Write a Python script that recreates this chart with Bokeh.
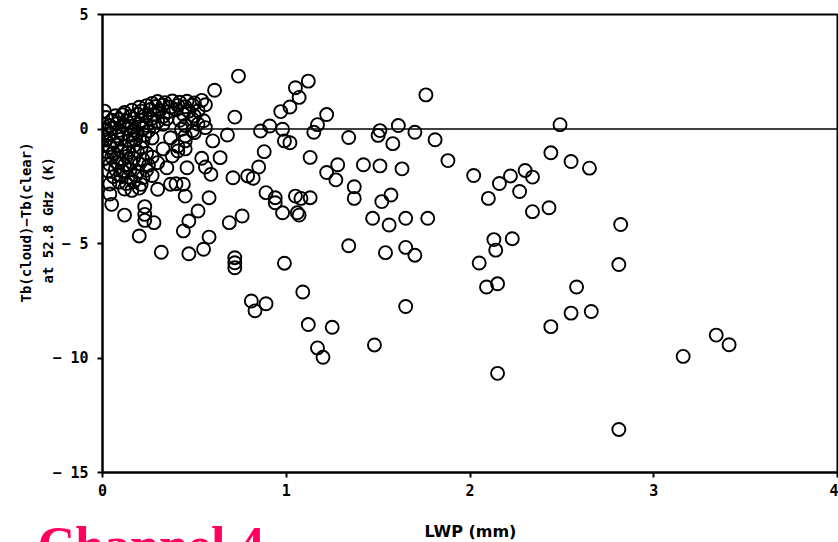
from bokeh.embed import file_html
from bokeh.layouts import column
from bokeh.models import ColumnDataSource, FixedTicker, Span, Title
from bokeh.core.properties import value
from bokeh.plotting import figure
from bokeh.resources import INLINE

# Liquid water path (mm) and brightness-temperature difference (K), larger-LWP cases
lwp_high = [
    1.12, 1.07, 1.05, 1.76, 1.22, 1.17, 1.15, 1.34, 1.51, 1.50, 1.61, 1.58, 1.70, 1.81,
    2.49, 1.13, 1.28, 1.22, 1.27, 1.42, 1.51, 1.63, 1.88, 2.02, 2.44, 2.55, 2.65, 2.22,
    2.30, 2.34, 2.16, 2.27, 2.10, 2.34, 2.43, 2.82, 1.13, 1.08, 1.37, 1.37, 1.57, 1.52,
    1.07, 1.47, 1.56, 1.65, 1.77, 1.34, 1.54, 1.65, 1.70, 2.13, 2.23, 2.14, 2.05, 2.81,
    2.09, 2.15, 2.58, 1.09, 1.65, 2.55, 2.66, 2.44, 1.12, 1.25, 1.17, 1.20, 1.48, 2.15,
    3.34, 3.41, 3.16, 2.81,
    0.74, 0.61, 0.72, 0.97, 1.02, 0.91, 0.86, 0.98, 0.99, 1.02, 0.88, 0.68, 0.60, 0.54,
    0.64, 0.56, 0.59, 0.71, 0.79, 0.82, 0.85, 0.89, 0.94, 0.98, 1.06, 1.05, 0.94, 0.76,
    0.69, 0.58, 0.52, 0.47, 0.44, 0.58, 0.55, 0.47, 0.32, 0.72, 0.72, 0.72, 0.99, 0.81,
    0.89, 0.83, 0.23, 0.23, 0.23, 0.28, 0.20, 0.12, 0.05, 0.44, 0.40, 0.45, 0.30, 0.35,
    0.46, 0.37,
]
dtb_high = [
    2.09, 1.38, 1.80, 1.49, 0.63, 0.19, -0.14, -0.37, -0.07, -0.28, 0.15, -0.64, -0.14, -0.47,
    0.19, -1.24, -1.56, -1.90, -2.22, -1.56, -1.61, -1.74, -1.38, -2.03, -1.04, -1.42, -1.71, -2.05,
    -1.81, -2.10, -2.38, -2.73, -3.03, -3.61, -3.44, -4.17, -3.00, -3.03, -2.52, -3.03, -2.88, -3.17,
    -3.76, -3.90, -4.19, -3.90, -3.90, -5.10, -5.40, -5.17, -5.51, -4.83, -4.79, -5.29, -5.85, -5.92,
    -6.90, -6.76, -6.90, -7.12, -7.75, -8.04, -7.97, -8.63, -8.54, -8.66, -9.56, -9.97, -9.43, -10.67,
    -9.00, -9.42, -9.93, -13.12,
    2.31, 1.69, 0.52, 0.76, 0.96, 0.13, -0.09, -0.01, -0.52, -0.60, -0.99, -0.26, -0.52, -1.28,
    -1.25, -1.66, -1.98, -2.13, -2.05, -2.15, -1.66, -2.78, -3.22, -3.66, -3.66, -2.93, -3.00, -3.80,
    -4.09, -3.00, -3.58, -4.02, -4.45, -4.72, -5.25, -5.45, -5.38, -5.62, -5.84, -6.06, -5.86, -7.51,
    -7.63, -7.94, -3.39, -3.73, -3.99, -4.09, -4.67, -3.76, -3.29, -2.41, -2.39, -2.93, -2.63, -1.69,
    -1.69, -2.41,
]

# Thin-cloud cases crowded near the origin
lwp_low = [
    0.27, 0.30, 0.34, 0.38, 0.42, 0.46, 0.50, 0.54,
    0.20, 0.24, 0.29, 0.33, 0.37, 0.41, 0.45, 0.49, 0.56,
    0.12, 0.16, 0.21, 0.26, 0.31, 0.36, 0.40, 0.47, 0.52,
    0.01, 0.07, 0.11, 0.15, 0.19, 0.23, 0.28, 0.33, 0.44, 0.50,
    0.02, 0.05, 0.09, 0.13, 0.17, 0.21, 0.26, 0.30, 0.35, 0.42, 0.49, 0.55,
    0.00, 0.04, 0.08, 0.12, 0.16, 0.20, 0.24, 0.28, 0.33, 0.45, 0.52,
    0.01, 0.05, 0.09, 0.13, 0.17, 0.22, 0.25, 0.43, 0.49, 0.56,
    0.00, 0.04, 0.08, 0.11, 0.15, 0.19, 0.23, 0.37, 0.50, 0.45,
    0.02, 0.06, 0.10, 0.14, 0.18, 0.22, 0.45,
    0.00, 0.04, 0.08, 0.12, 0.17, 0.21, 0.45, 0.41,
    0.02, 0.06, 0.10, 0.14, 0.19, 0.24, 0.41,
    0.01, 0.05, 0.09, 0.13, 0.17, 0.22, 0.27, 0.38,
    0.04, 0.08, 0.12, 0.16, 0.20, 0.25, 0.30,
    0.03, 0.07, 0.11, 0.15, 0.19, 0.24,
    0.06, 0.10, 0.14, 0.18, 0.22, 0.27,
    0.04, 0.09, 0.13, 0.17, 0.21,
    0.04, 0.12, 0.16, 0.20,
    0.27, 0.33,
]
dtb_low = [
    1.12, 1.20, 1.15, 1.22, 1.17, 1.21, 1.14, 1.25,
    0.95, 1.02, 0.98, 1.05, 0.96, 1.03, 0.97, 1.05, 1.06,
    0.72, 0.82, 0.78, 0.85, 0.80, 0.76, 0.84, 0.78, 0.80,
    0.78, 0.58, 0.62, 0.55, 0.64, 0.59, 0.63, 0.55, 0.64, 0.57,
    0.50, 0.38, 0.42, 0.35, 0.44, 0.37, 0.41, 0.33, 0.45, 0.38, 0.43, 0.36,
    0.22, 0.15, 0.24, 0.18, 0.12, 0.23, 0.16, 0.10, 0.21, 0.15, 0.22,
    -0.03, 0.04, -0.06, 0.02, -0.05, 0.03, -0.08, -0.01, -0.07, 0.06,
    -0.27, -0.20, -0.30, -0.22, -0.28, -0.18, -0.26, -0.38, -0.16, -0.30,
    -0.48, -0.55, -0.45, -0.52, -0.47, -0.55, -0.52,
    -0.72, -0.80, -0.70, -0.78, -0.74, -0.82, -0.87, -0.75,
    -0.98, -1.05, -0.95, -1.02, -0.97, -1.06, -0.96,
    -1.28, -1.22, -1.30, -1.20, -1.27, -1.33, -1.22, -1.18,
    -1.55, -1.48, -1.57, -1.45, -1.52, -1.58, -1.47,
    -1.83, -1.76, -1.85, -1.78, -1.88, -1.80,
    -2.08, -2.02, -2.10, -2.04, -2.12, -2.03,
    -2.40, -2.32, -2.38, -2.30, -2.42,
    -2.84, -2.62, -2.68, -2.58,
    -0.39, -0.87,
]

x_ticks = [0, 1, 2, 3, 4]
y_ticks = [5, 0, -5, -10, -15]
y_tick_labels = ["5", "0", "− 5", "− 10", "− 15"]

source = ColumnDataSource(data=dict(lwp=lwp_high + lwp_low, dtb=dtb_high + dtb_low))

mono = "DejaVu Sans Mono"

p = figure(
    width=838, height=516,
    x_range=(0, 4), y_range=(-15, 5),
    output_backend="svg", toolbar_location=None,
    min_border_left=102, min_border_right=1, min_border_top=14, min_border_bottom=44,
)
p.grid.visible = False
p.background_fill_color = "white"
p.border_fill_color = "white"
p.outline_line_color = "black"
p.outline_line_width = 2

for ax in (p.xaxis[0], p.yaxis[0]):
    ax.axis_line_color = "black"
    ax.axis_line_width = 2
    ax.major_tick_line_color = "black"
    ax.major_tick_line_width = 2
    ax.major_tick_in = 0
    ax.major_tick_out = 5
    ax.minor_tick_line_color = None
    ax.major_label_text_font = mono
    ax.major_label_text_font_style = "bold"
    ax.major_label_text_font_size = "15px"
    ax.major_label_text_color = "black"

p.xaxis.ticker = FixedTicker(ticks=x_ticks)
p.xaxis.major_label_standoff = 6

p.yaxis.ticker = FixedTicker(ticks=y_ticks)
p.yaxis.major_label_overrides = {t: s for t, s in zip(y_ticks, y_tick_labels)}
p.yaxis.major_label_standoff = 9

# two-line vertical title; each line starts a fixed distance above the frame's bottom
for text, offset, standoff in (("at 52.8 GHz (K)", 189, -13), ("Tb(cloud)−Tb(clear)", 170, 21)):
    p.add_layout(Title(text=text, align="left", offset=offset, standoff=standoff,
                       text_font=mono, text_font_style="bold",
                       text_font_size="14px", text_color="black"), "left")

# zero reference line
p.add_layout(Span(location=0, dimension="width", line_color="black", line_width=1.5))

p.scatter("lwp", "dtb", source=source, marker="circle", size=13,
          fill_color=None, line_color="black", line_width=1.9)

# strip underneath holding the x title and the channel caption
strip = figure(
    width=838, height=26, x_range=(0, 838), y_range=(0, 26),
    output_backend="svg", toolbar_location=None,
    x_axis_location=None, y_axis_location=None,
    min_border_left=0, min_border_right=0, min_border_top=0, min_border_bottom=0,
)
strip.grid.visible = False
strip.outline_line_color = None
strip.background_fill_color = "white"
strip.border_fill_color = "white"

# keep the strip's frame spanning the full width instead of lining up with the plot above
for fig in (p, strip):
    if "frame_align" in fig.properties():
        fig.frame_align = False

strip.text(x=[470], y=[11], text=["LWP (mm)"], text_align="center",
           text_baseline="middle", text_font=value("DejaVu Sans"),
           text_font_style="bold", text_font_size="16px", text_color="black")
# caption runs past the bottom edge and is cut by the strip
strip.text(x=[37], y=[25.5], text=["Channel 4"], text_align="left",
           text_baseline="top", text_font=value("Liberation Serif"),
           text_font_style="bold", text_font_size="52px", text_color="#FF0060")

layout = column(p, strip, spacing=0)

open("out.html", "w").write(file_html(layout, INLINE))
